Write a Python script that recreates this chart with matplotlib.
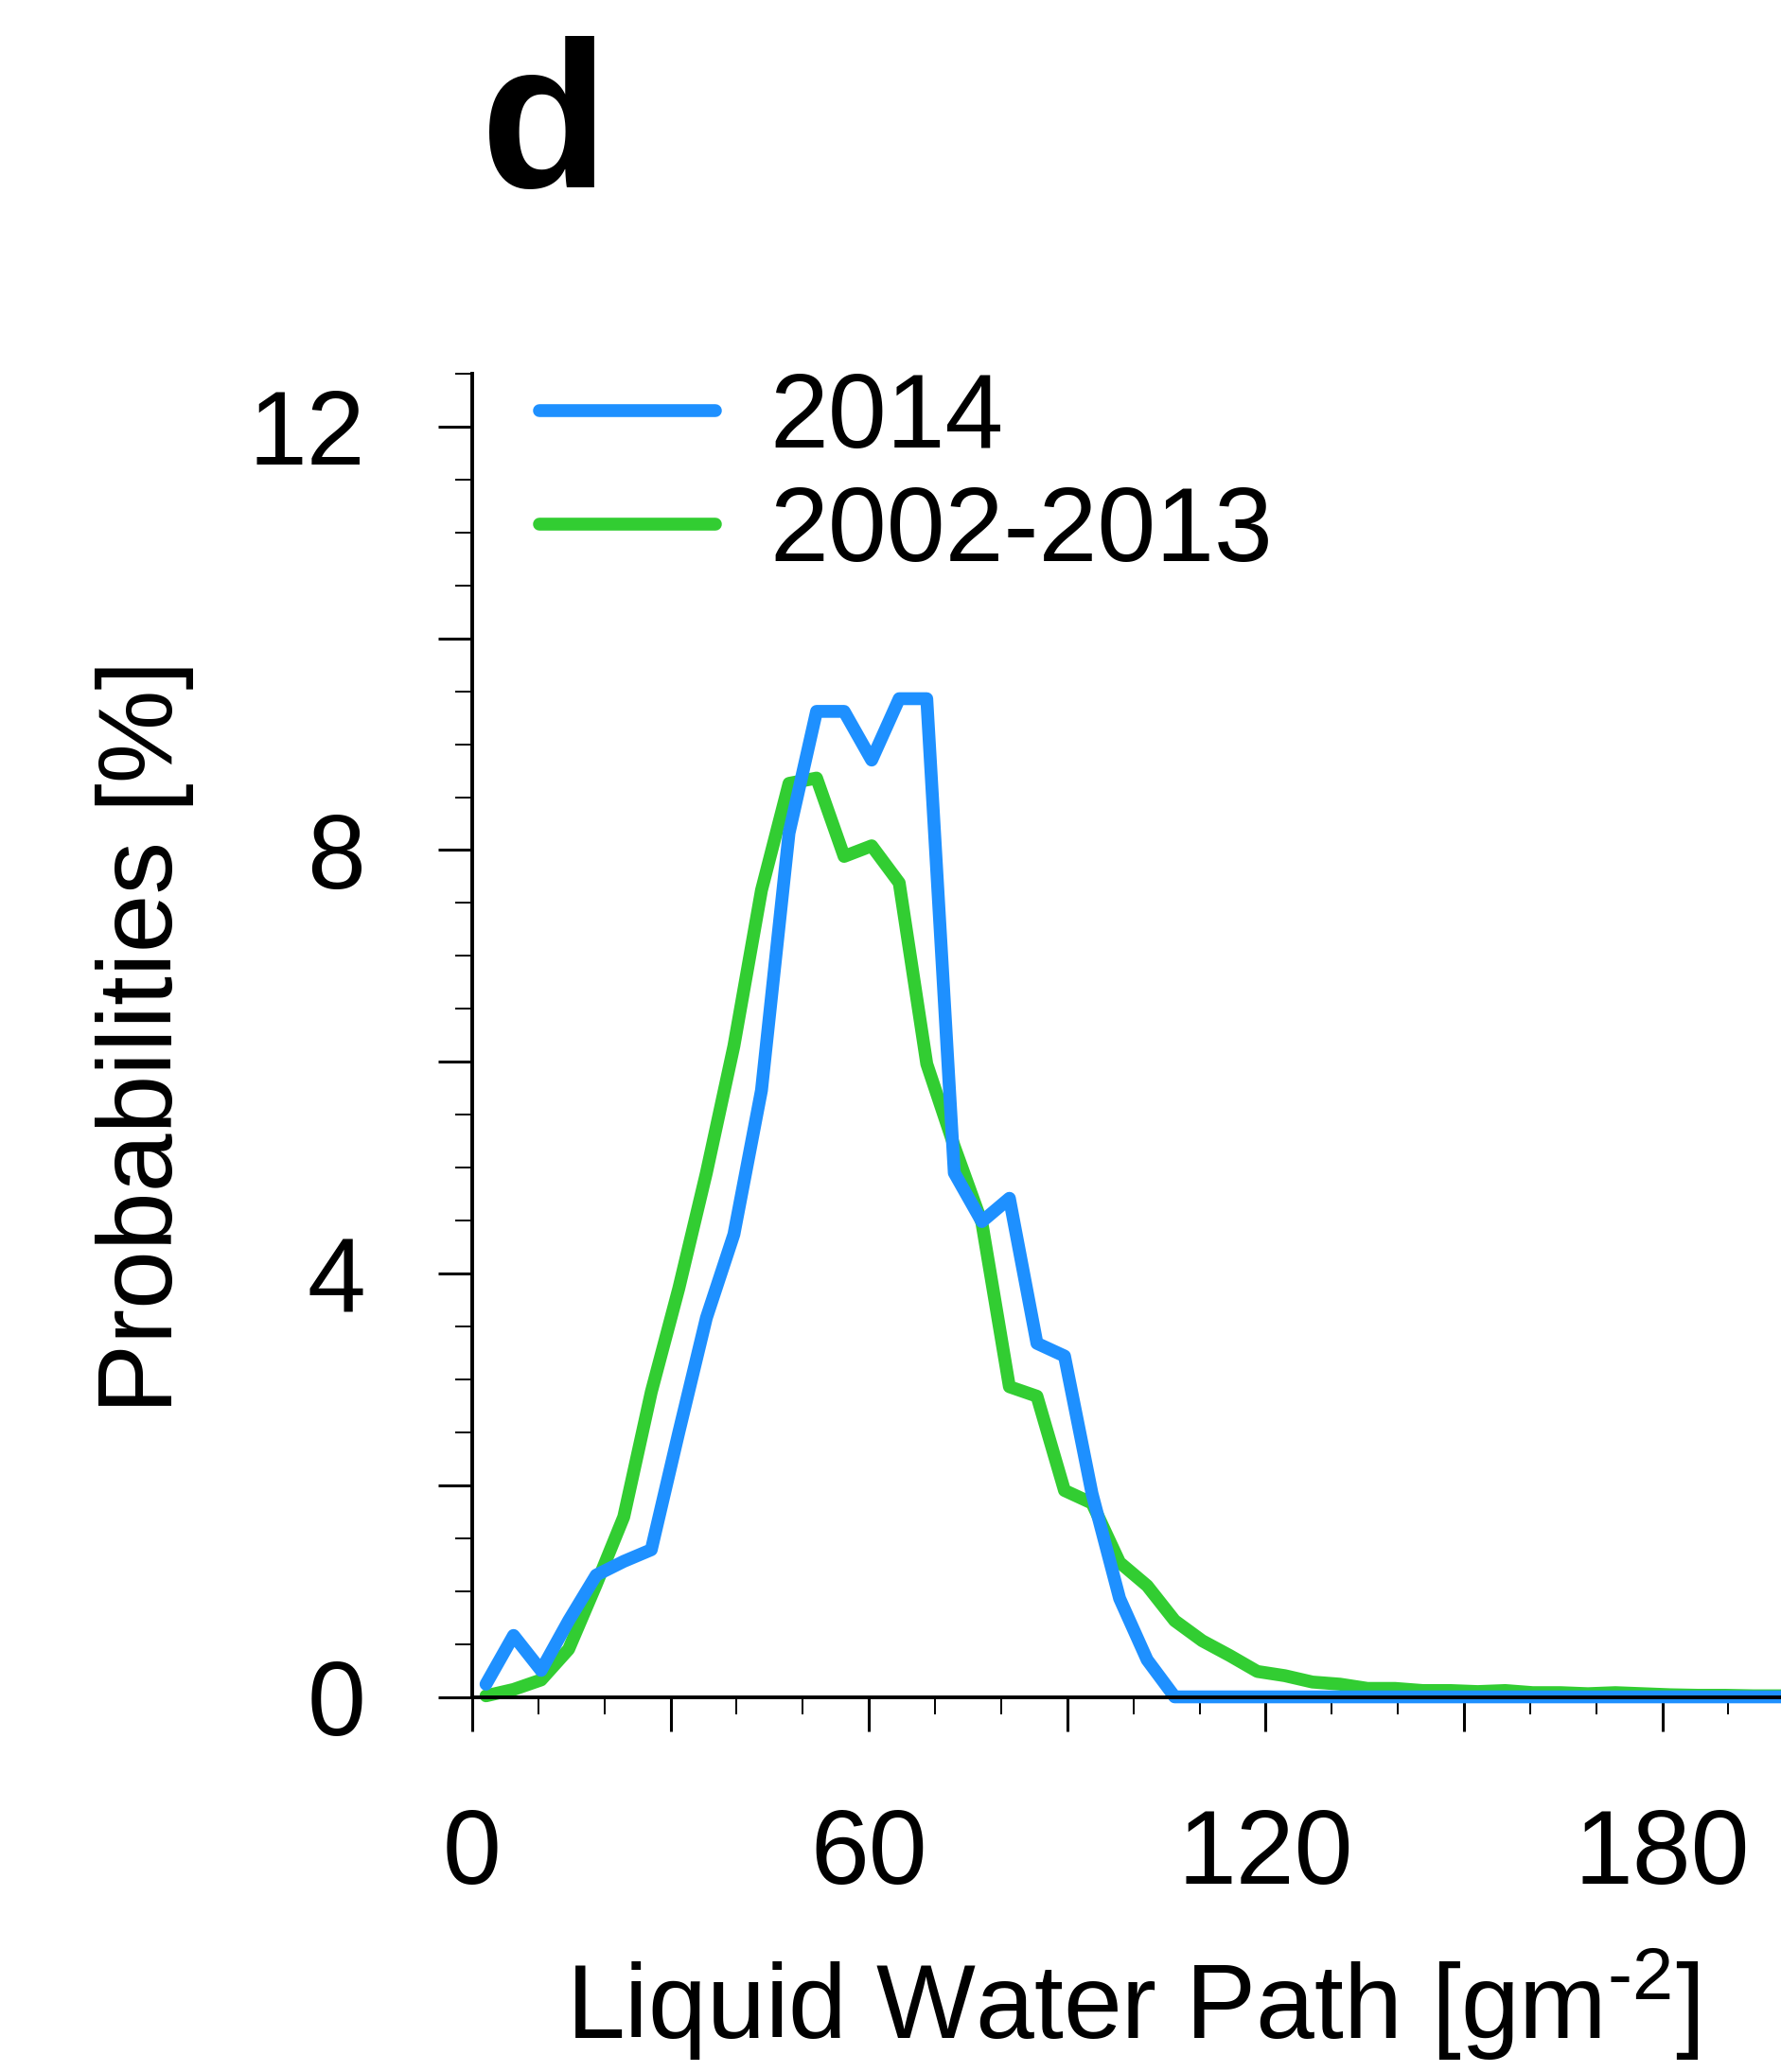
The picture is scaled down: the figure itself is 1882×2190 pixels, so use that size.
import numpy as np
import matplotlib
matplotlib.use('Agg')
import matplotlib.pyplot as plt
from matplotlib.ticker import MultipleLocator

plt.rcParams['font.family'] = 'Liberation Sans'
plt.rcParams['mathtext.fontset'] = 'custom'
plt.rcParams['mathtext.rm'] = 'Liberation Sans'
plt.rcParams['mathtext.default'] = 'regular'

# LWP histogram: 48 bins of equal width between 0 and 200 g/m2
bin_edges = np.linspace(0, 200, 49)
lwp_centers = (bin_edges[:-1] + bin_edges[1:]) / 2

prob_2014 = [0.12, 0.58, 0.25, 0.72, 1.15, 1.28, 1.39, 2.50, 3.58, 4.37,
             5.73, 8.16, 9.31, 9.31, 8.85, 9.43, 9.43, 4.95, 4.49, 4.71,
             3.34, 3.22, 1.92, 0.93, 0.35, 0.0, 0.0, 0.0, 0.0, 0.0,
             0.0, 0.0, 0.0, 0.0, 0.0, 0.0, 0.0, 0.0, 0.0, 0.0,
             0.0, 0.0, 0.0, 0.0, 0.0, 0.0, 0.0, 0.0]

prob_clim = [0.01, 0.07, 0.16, 0.45, 1.06, 1.70, 2.88, 3.86, 4.95, 6.15,
             7.62, 8.63, 8.68, 7.94, 8.04, 7.69, 5.98, 5.20, 4.48, 2.93,
             2.84, 1.95, 1.83, 1.27, 1.05, 0.72, 0.53, 0.39, 0.24, 0.20,
             0.14, 0.12, 0.08, 0.08, 0.06, 0.06, 0.05, 0.06, 0.04, 0.04,
             0.03, 0.04, 0.03, 0.02, 0.015, 0.015, 0.01, 0.01]

labels = ['2014', '2002-2013']
colors = ['#1e90ff', '#32cd32']

W, H = 1883, 2190
fig = plt.figure(figsize=(W / 100, H / 100), dpi=100)
ax = fig.add_axes([499 / W, 1 - 1793.5 / H, 1 - 499 / W, (1793.5 - 395) / H])

line_kw = dict(lw=9.8, solid_joinstyle='round', solid_capstyle='round', clip_on=False)
l_clim, = ax.plot(lwp_centers, prob_clim, color=colors[1], label=labels[1], **line_kw)
l_2014, = ax.plot(lwp_centers, prob_2014, color=colors[0], label=labels[0], **line_kw)

ax.set_xlim(0, 198.1)
ax.set_ylim(0, 12.5)

for s in ['top', 'right']:
    ax.spines[s].set_visible(False)
for s in ['left', 'bottom']:
    ax.spines[s].set_linewidth(2.8)

ax.set_xticks(np.arange(0, 181, 30))
ax.set_xticklabels(['0', '', '60', '', '120', '', '180'])
ax.xaxis.set_minor_locator(MultipleLocator(10))
ax.set_yticks(np.arange(0, 12.1, 2))
ax.set_yticklabels(['0', '', '4', '', '8', '', '12'])
ax.yaxis.set_minor_locator(MultipleLocator(0.5))

ax.tick_params(which='major', direction='out', length=26, width=2.2, labelsize=80)
ax.tick_params(which='minor', direction='out', length=13, width=1.4)
ax.tick_params(axis='x', which='major', pad=58)
ax.tick_params(axis='y', which='major', pad=55)

ax.set_xlabel('Liquid Water Path [gm$^{\\text{-2}}$]', fontsize=80, va='baseline')
ax.xaxis.set_label_coords(0.5043, (1793.5 - 2155) / 1398.5)
ax.set_ylabel('Probabilities [%]', fontsize=80, va='baseline')
ax.yaxis.set_label_coords((182 - 499) / 1384, (1793.5 - 1096) / 1398.5)

ax.legend(handles=[l_2014, l_clim], loc='center left',
          bbox_to_anchor=(570 / W, 1 - 504 / H), bbox_transform=fig.transFigure,
          frameon=False, fontsize=80, handlelength=1.67, handletextpad=0.52,
          labelspacing=0.15, borderpad=0, borderaxespad=0)

fig.text(508 / W, 1 - 198 / H, 'd', fontsize=159, fontweight='bold',
         ha='left', va='baseline')

fig.savefig('out.png', dpi=100)
